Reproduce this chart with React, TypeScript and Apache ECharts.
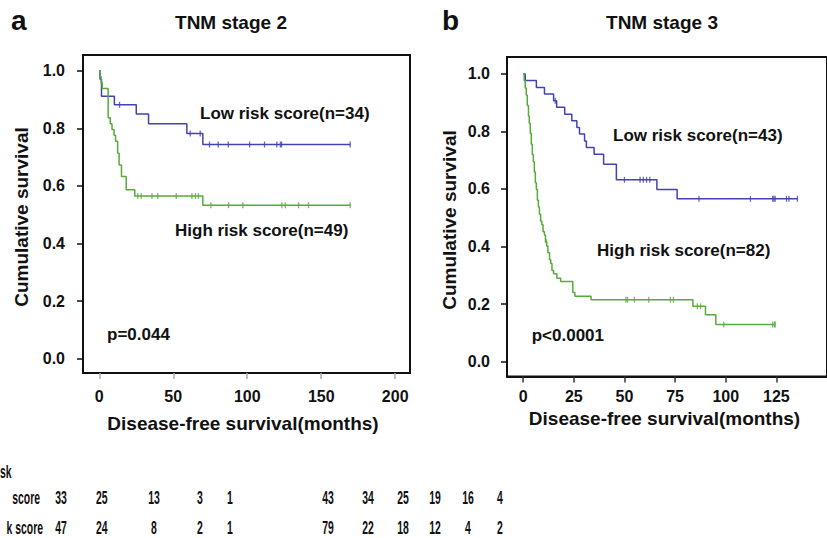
import React, { useEffect, useRef } from 'react';
import * as echarts from 'echarts';

const BLUE = '#4043b0';
const GREEN = '#58aa3c';

// ---------- Panel a: TNM stage 2 ----------
const aLowTimes = [0, 0.5, 1.5, 10.2, 25, 33.3, 59.2, 70];
const aLowSurv = [1.0, 0.971, 0.912, 0.882, 0.85, 0.816, 0.782, 0.744];
const aLowEnd = 169.6;
const aLowCensor = [13.7, 61.5, 68.2, 74.5, 80.4, 87.2, 101.6, 111.7, 120, 122.4, 123.2, 169.6];

const aHighTimes = [0, 0.6, 1.2, 2, 6, 7.4, 8.6, 10, 11, 12.4, 13.4, 15, 18.2, 24, 70];
const aHighSurv = [1.0, 0.98, 0.959, 0.939, 0.837, 0.816, 0.796, 0.776, 0.755, 0.714, 0.673, 0.633, 0.587, 0.565, 0.533];
const aHighEnd = 169.6;
const aHighCensor = [26, 28.4, 35.6, 39.5, 52, 62.6, 65, 67, 75.4, 87.4, 97, 123.4, 125.7, 134.7, 141.4, 169.6];

const aXTicks = [0, 50, 100, 150, 200];
const aAtRiskLow = [33, 25, 13, 3, 1];
const aAtRiskHigh = [47, 24, 8, 2, 1];

// ---------- Panel b: TNM stage 3 ----------
const bLowTimes = [0, 1, 6.5, 10.5, 15, 16.5, 20.5, 24, 26.5, 27.8, 30.3, 31.2, 35, 39.7, 46, 66, 76];
const bLowSurv = [1.0, 0.977, 0.953, 0.93, 0.907, 0.884, 0.86, 0.837, 0.814, 0.791, 0.767, 0.744, 0.721, 0.686, 0.632, 0.598, 0.566];
const bLowEnd = 135.4;
const bLowCensor = [15.8, 50, 57.7, 59.3, 60.9, 62.5, 86.8, 112.2, 123.2, 123.8, 124.4, 130, 131.2, 135.4];

const bHighTimes = [0, 0.5, 1, 1.5, 2, 2.6, 3, 3.5, 4, 4.5, 5, 5.5, 6, 6.5, 7, 7.5, 8, 8.6, 9.2, 9.8, 10.5, 11, 11.6, 12.2, 13, 13.6, 14.2, 15, 16.6, 18.5, 24.5, 25.5, 33.5, 83.8, 90, 95.1];
const bHighSurv = [1.0, 0.976, 0.951, 0.927, 0.89, 0.854, 0.829, 0.793, 0.756, 0.72, 0.695, 0.659, 0.622, 0.598, 0.561, 0.537, 0.512, 0.488, 0.476, 0.451, 0.439, 0.415, 0.402, 0.378, 0.354, 0.341, 0.317, 0.305, 0.29, 0.278, 0.24, 0.227, 0.215, 0.192, 0.163, 0.129];
const bHighEnd = 124.4;
const bHighCensor = [11.5, 50.7, 51.5, 54.9, 62, 72.7, 74.2, 86, 87.6, 99, 123.2, 124.1, 124.4];

const bXTicks = [0, 25, 50, 75, 100, 125];
const bAtRiskLow = [43, 34, 25, 19, 16, 4];
const bAtRiskHigh = [79, 22, 18, 12, 4, 2];

const yTicks = [0, 0.2, 0.4, 0.6, 0.8, 1.0];

// visible (cropped) row labels of the at-risk table
const tableHeader = 'sk';
const tableRowLabels = ['score', 'k score'];

// table column positions (layout)
const aTableX = [61, 101.7, 154, 200, 230];
const bTableX = [328, 368, 403, 435, 468, 500];

const FONT = "'Liberation Sans', Arial, Helvetica, sans-serif";

function stepData(times: number[], surv: number[], end: number) {
  const d = times.map((t, i) => [t, surv[i]]);
  d.push([end, surv[surv.length - 1]]);
  return d;
}
function levelAt(times: number[], surv: number[], t: number) {
  let v = surv[0];
  for (let i = 0; i < times.length; i++) if (times[i] <= t) v = surv[i];
  return v;
}
function censorData(times: number[], surv: number[], cens: number[]) {
  return cens.map((t) => [t, levelAt(times, surv, t)]);
}

function txt(x: number, y: number, text: string, size: number, align = 'left', extra: any = {}) {
  return {
    type: 'text',
    x,
    y,
    ...extra,
    style: {
      text,
      fill: '#111',
      font: `bold ${size}px ${FONT}`,
      align,
      textAlign: align,
      verticalAlign: 'middle',
      textVerticalAlign: 'middle',
    },
  };
}

export default function App() {
  const ref = useRef<HTMLDivElement>(null);
  useEffect(() => {
    document.body.style.margin = '0';
    const chart = echarts.init(ref.current!, undefined, { renderer: 'svg' });

    const lineSeries = (data: number[][], color: string, idx: number) => ({
      type: 'line',
      step: 'end',
      data,
      xAxisIndex: idx,
      yAxisIndex: idx,
      showSymbol: false,
      symbol: 'none',
      lineStyle: { color, width: 1.5 },
      silent: true,
    });
    const censSeries = (data: number[][], color: string, idx: number) => ({
      type: 'scatter',
      data,
      xAxisIndex: idx,
      yAxisIndex: idx,
      symbol: 'rect',
      symbolSize: [1.3, 6],
      itemStyle: { color },
      silent: true,
    });

    const yAxisCommon = {
      type: 'value',
      splitLine: { show: false },
      axisLine: { show: true, onZero: false, lineStyle: { color: '#111', width: 2 } },
      axisTick: { show: true, length: 6, customValues: yTicks, lineStyle: { color: '#111', width: 1.5 } },
      axisLabel: {
        customValues: yTicks,
        formatter: (v: number) => v.toFixed(1),
        color: '#111',
        fontWeight: 'bold',
        fontSize: 16,
        fontFamily: FONT,
      },
    };

    const narrow = { scaleX: 0.58 };
    const tableTexts: any[] = [];
    tableTexts.push(txt(0, 471.7, tableHeader, 18, 'left', narrow));
    tableTexts.push(txt(40, 498, tableRowLabels[0], 18, 'right', narrow));
    tableTexts.push(txt(43, 528, tableRowLabels[1], 18, 'right', narrow));
    aAtRiskLow.forEach((v, i) => tableTexts.push(txt(aTableX[i], 498, String(v), 18, 'center', narrow)));
    aAtRiskHigh.forEach((v, i) => tableTexts.push(txt(aTableX[i], 528, String(v), 18, 'center', narrow)));
    bAtRiskLow.forEach((v, i) => tableTexts.push(txt(bTableX[i], 498, String(v), 18, 'center', narrow)));
    bAtRiskHigh.forEach((v, i) => tableTexts.push(txt(bTableX[i], 528, String(v), 18, 'center', narrow)));

    chart.setOption({
      animation: false,
      backgroundColor: '#fff',
      grid: [
        { left: 83, top: 55, width: 327, height: 318, show: true, borderColor: '#111', borderWidth: 2, containLabel: false },
        { left: 507, top: 57, width: 335.4, height: 319.5, show: true, borderColor: '#111', borderWidth: 2, containLabel: false },
      ],
      xAxis: [
        {
          type: 'value',
          gridIndex: 0,
          min: -11,
          max: 210,
          splitLine: { show: false },
          axisLine: { show: true, onZero: false, lineStyle: { color: '#111', width: 2 } },
          axisTick: { show: true, length: 6, customValues: aXTicks, lineStyle: { color: '#aaa', width: 1.5 } },
          axisLabel: { customValues: aXTicks, margin: 15, color: '#111', fontWeight: 'bold', fontSize: 16, fontFamily: FONT },
        },
        {
          type: 'value',
          gridIndex: 1,
          min: -8,
          max: 150,
          splitLine: { show: false },
          axisLine: { show: true, onZero: false, lineStyle: { color: '#111', width: 2 } },
          axisTick: { show: true, length: 6, customValues: bXTicks, lineStyle: { color: '#333', width: 1.5 } },
          axisLabel: { customValues: bXTicks, margin: 12, color: '#111', fontWeight: 'bold', fontSize: 16, fontFamily: FONT },
        },
      ],
      yAxis: [
        { ...yAxisCommon, gridIndex: 0, min: -0.05, max: 1.055, axisLabel: { ...yAxisCommon.axisLabel, margin: 18 } },
        { ...yAxisCommon, gridIndex: 1, min: -0.052, max: 1.059, axisLabel: { ...yAxisCommon.axisLabel, margin: 17 } },
      ],
      series: [
        lineSeries(stepData(aLowTimes, aLowSurv, aLowEnd), BLUE, 0),
        lineSeries(stepData(aHighTimes, aHighSurv, aHighEnd), GREEN, 0),
        censSeries(censorData(aLowTimes, aLowSurv, aLowCensor), BLUE, 0),
        censSeries(censorData(aHighTimes, aHighSurv, aHighCensor), GREEN, 0),
        lineSeries(stepData(bLowTimes, bLowSurv, bLowEnd), BLUE, 1),
        lineSeries(stepData(bHighTimes, bHighSurv, bHighEnd), GREEN, 1),
        censSeries(censorData(bLowTimes, bLowSurv, bLowCensor), BLUE, 1),
        censSeries(censorData(bHighTimes, bHighSurv, bHighCensor), GREEN, 1),
      ],
      graphic: [
        txt(11, 20, 'a', 28),
        txt(231, 22, 'TNM stage 2', 19, 'center'),
        txt(442, 20, 'b', 28),
        txt(662, 22, 'TNM stage 3', 19, 'center'),
        txt(21, 217, 'Cumulative survival', 19, 'center', { rotation: Math.PI / 2 }),
        txt(449.5, 220, 'Cumulative survival', 19, 'center', { rotation: Math.PI / 2 }),
        txt(243, 423, 'Disease-free survival(months)', 19, 'center'),
        txt(664.5, 418, 'Disease-free survival(months)', 19, 'center'),
        txt(200, 113, 'Low risk score(n=34)', 17),
        txt(175, 230, 'High risk score(n=49)', 17),
        txt(107, 334, 'p=0.044', 17),
        txt(613, 135, 'Low risk score(n=43)', 17),
        txt(597, 250.7, 'High risk score(n=82)', 17),
        txt(531.7, 335, 'p<0.0001', 17),
        ...tableTexts,
      ],
    });
    return () => chart.dispose();
  }, []);
  return <div ref={ref} style={{ position: 'fixed', left: 0, top: 0, width: 827, height: 538 }} />;
}
